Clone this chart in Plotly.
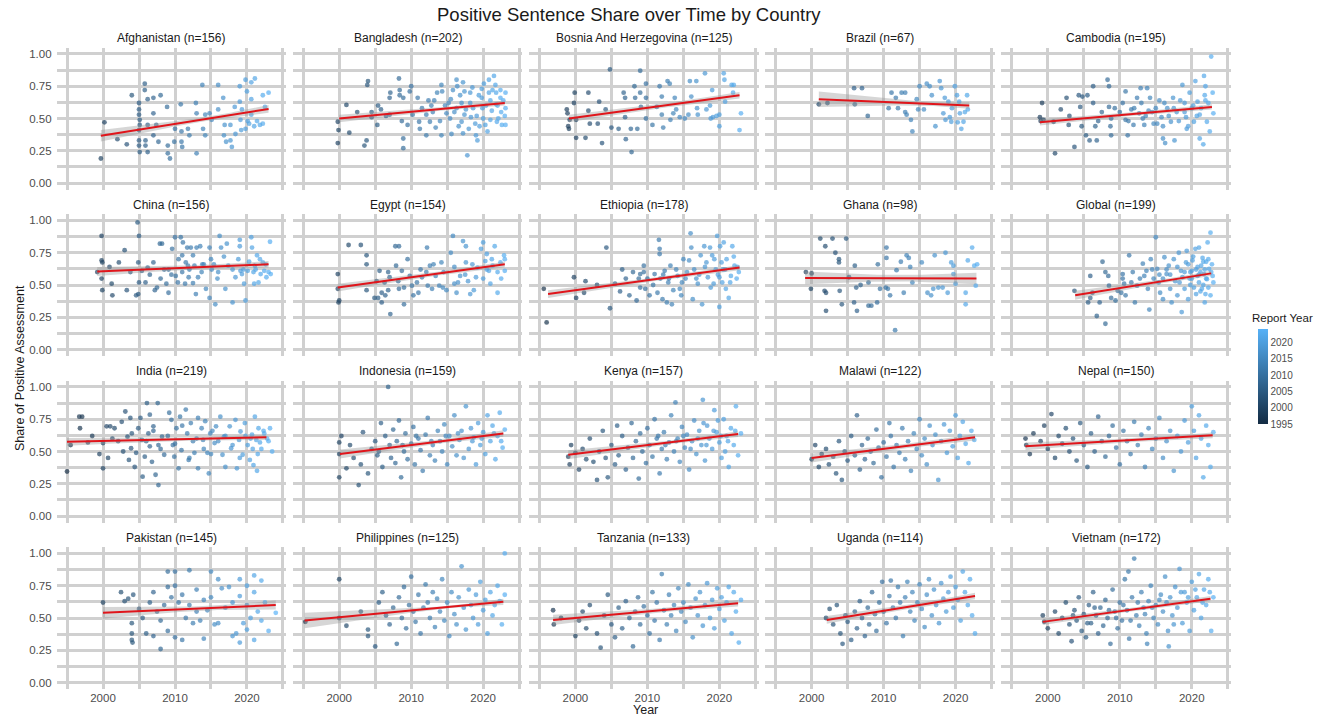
import numpy as np
import plotly.graph_objects as go

# ---------------- data ----------------
countries = ["Afghanistan", "Bangladesh", "Bosnia And Herzegovina", "Brazil", "Cambodia",
             "China", "Egypt", "Ethiopia", "Ghana", "Global",
             "India", "Indonesia", "Kenya", "Malawi", "Nepal",
             "Pakistan", "Philippines", "Tanzania", "Uganda", "Vietnam"]
counts = [156, 202, 125, 67, 195, 156, 154, 178, 98, 199,
          219, 159, 157, 122, 150, 145, 125, 133, 114, 172]

pts_afghanistan = [(1999.7,.19),(2000.2,.47),(2002,.34),(2003.3,.30),(2004,.68),(2005,.62),(2005,.57),(2005,.53),(2005.1,.49),(2005.1,.45),(2005,.41),(2005,.33),(2005,.29),(2005.1,.24),(2005.8,.77),(2005.8,.72),(2006.2,.65),(2006.2,.45),(2005.9,.33),(2005.9,.29),(2006.2,.24),(2007,.66),(2007,.54),(2007,.37),(2008,.68),(2007.4,.45),(2007.7,.32),(2008.9,.59),(2009,.23),(2009,.29),(2009.3,.19),(2010,.42),(2009.9,.32),(2010.8,.61),(2010.9,.40),(2010.9,.32),(2011,.28),(2011.8,.42),(2012,.37),(2012.9,.62),(2013,.54),(2013,.23),(2013.8,.76),(2013.9,.42),(2014.2,.53),(2014.2,.37),(2014.8,.54),(2015.1,.49),(2016,.76),(2016,.57),(2016.7,.66),(2016.9,.45),(2017.1,.32),(2016.8,.37),(2017.7,.45),(2017.9,.28),(2017.7,.33),(2018.3,.59),(2018.4,.38),(2019,.75),(2019,.63),(2019.3,.57),(2019.1,.49),(2019.2,.41),(2019.8,.80),(2020,.71),(2020.1,.48),(2019.8,.42),(2020.6,.78),(2020.6,.65),(2020.6,.53),(2021.1,.81),(2021.4,.48),(2022.2,.68),(2022.2,.46),(2023,.70),(2022.5,.59),(2021.8,.45),(2021,.44),(2020.3,.46)]

pts_bangladesh = [(1999.8,.475),(1999.8,.31),(1999.9,.41),(2001,.605),(2001.4,.39),(2003.5,.29),(2003.8,.33),(2004,.79),(2003.9,.76),(2004.5,.51),(2004.5,.55),(2005.3,.45),(2005.4,.60),(2005.8,.57),(2007,.53),(2007,.66),(2007.1,.70),(2008.3,.81),(2008.4,.72),(2008.4,.68),(2008.7,.48),(2008.9,.66),(2008.9,.27),(2008.9,.345),(2009.8,.71),(2010,.75),(2010.2,.53),(2010.9,.66),(2011.1,.475),(2011.2,.42),(2012.1,.53),(2012.1,.37),(2012.6,.475),(2012.8,.60),(2013.2,.64),(2013.4,.43),(2014.2,.76),(2014.3,.71),(2014.2,.37),(2014.7,.60),(2014.9,.54),(2015.5,.65),(2015.4,.50),(2015.6,.38),(2016.3,.80),(2016.4,.75),(2016.3,.58),(2016.8,.68),(2017,.475),(2017.2,.385),(2017.4,.53),(2017.4,.71),(2017.8,.215),(2018.2,.70),(2018.2,.62),(2018.3,.51),(2018.9,.46),(2019,.37),(2019.2,.33),(2019.8,.73),(2019.8,.66),(2019.9,.58),(2020,.50),(2020.3,.45),(2020.8,.70),(2020.8,.80),(2021,.64),(2021,.49),(2021.7,.76),(2021.8,.70),(2021.8,.61),(2021.9,.475),(2022.4,.72),(2022.4,.66),(2022.5,.55),(2022.6,.45),(2023.1,.70),(2023.1,.58),(2023.1,.45),
                  (2015.2,.62),(2015.8,.72),(2016,.55),(2016.6,.44),(2017,.62),(2017.2,.78),(2017.6,.57),(2018,.42),(2018.5,.74),(2018.6,.58),(2019.1,.52),(2019.4,.68),(2019.5,.44),(2020.1,.77),(2020.4,.60),(2020.6,.40),(2021.2,.56),(2021.3,.72),(2021.5,.83),(2022,.60),(2022.1,.50),(2022.8,.64),(2023,.52),(2011.5,.58),(2012.4,.64),(2013,.55),(2013.6,.70),(2014,.48),(2009.5,.45),(2006.5,.52),(2002.5,.55)]

pts_bosnia = [(1998.8,.57),(1998.9,.54),(1999,.44),(1999.1,.42),(1999.2,.49),(1999.9,.70),(1999.8,.62),(2000.1,.35),(2000.1,.49),(2001.4,.35),(2001.8,.70),(2001.8,.56),(2002,.46),(2003.1,.46),(2003.3,.63),(2003.7,.31),(2004.2,.57),(2004.8,.88),(2005,.43),(2006,.42),(2006.7,.70),(2006.9,.66),(2006.9,.51),(2007,.34),(2007.7,.42),(2007.8,.24),(2008.2,.75),(2008.3,.66),(2008.6,.42),(2009,.87),(2009,.70),(2009.1,.59),(2009.8,.77),(2009.8,.66),(2009.8,.50),(2010.7,.45),(2011.3,.59),(2011.7,.75),(2012,.67),(2012,.53),(2012.2,.43),(2012.8,.79),(2013.1,.77),(2013.2,.49),(2013.6,.54),(2013.8,.66),(2014,.57),(2014.5,.51),(2015.2,.50),(2015.7,.53),(2015.9,.79),(2016.1,.67),(2016.8,.79),(2016.9,.58),(2017,.53),(2018,.85),(2018.2,.57),(2018.7,.60),(2018.8,.50),(2019,.72),(2019.1,.51),(2019.6,.52),(2020,.44),(2020,.53),(2020.6,.85),(2020.7,.80),(2020.8,.63),(2021.7,.76),(2021.9,.70),(2022,.76),(2022.8,.41),(2023,.54)]

pts_brazil = [(2001,.61),(2002.2,.62),(2005.9,.735),(2007,.735),(2006,.61),(2007.8,.52),(2010.7,.58),(2011.1,.70),(2011.7,.66),(2012,.58),(2012.5,.70),(2013,.70),(2013,.55),(2013.2,.53),(2013.8,.49),(2014,.40),(2014.6,.65),(2014.8,.57),(2015,.75),(2015.6,.57),(2016,.77),(2016.4,.75),(2016.7,.68),(2017.2,.44),(2017.8,.79),(2018,.735),(2018.3,.54),(2018.5,.66),(2018.6,.49),(2019,.63),(2019.2,.51),(2019.4,.475),(2019.5,.58),(2019.9,.75),(2020.2,.68),(2020.3,.47),(2020.5,.63),(2020.6,.54),(2020.8,.42),(2021.1,.475),(2021.3,.55),(2021.6,.68),(2021.7,.57)]

pts_cambodia = [(1998.9,.51),(1999,.48),(1999.2,.62),(1999.4,.49),(2000.8,.475),(2001,.23),(2001.8,.57),(2002.6,.66),(2002.9,.45),(2003.7,.28),(2004.3,.68),(2004.5,.59),(2004.7,.44),(2004.8,.67),(2005.3,.37),(2005.5,.68),(2005.8,.33),(2006.3,.75),(2006.3,.62),(2006.6,.44),(2006.8,.33),(2008.3,.80),(2008.5,.75),(2008.5,.59),(2008.7,.44),(2008.8,.50),(2008.8,.37),(2009.3,.58),(2010.8,.71),(2010.8,.49),(2011.1,.37),(2011.6,.57),(2011.9,.45),(2012.4,.66),(2012.7,.54),(2012.9,.735),(2013.2,.50),(2013.4,.45),(2013.8,.735),(2014.2,.66),(2014.5,.55),(2014.7,.46),(2015,.58),(2015.5,.64),(2015.8,.51),(2016,.44),(2016,.345),(2016.3,.31),(2016.6,.58),(2017.1,.475),(2017.4,.66),(2017.6,.33),(2017.9,.55),(2018.7,.76),(2019,.62),(2019.2,.51),(2019.3,.42),(2019.7,.70),(2020,.58),(2020.3,.475),(2020.5,.79),(2020.8,.63),(2021.1,.53),(2021.1,.345),(2021.6,.30),(2021.7,.83),(2021.9,.64),(2022.1,.475),(2021.9,.75),(2022.7,.98),(2022.9,.70),(2023,.54),
                (2010,.55),(2010.4,.62),(2011.2,.48),(2012,.58),(2013,.62),(2013.6,.52),(2014,.56),(2015.2,.46),(2016.2,.62),(2016.8,.52),(2017.5,.58),(2018.2,.48),(2018.4,.64),(2019,.55),(2019.5,.44),(2020.2,.60),(2020.7,.52),(2021.3,.58),(2021.8,.68),(2022.3,.62),(2022.5,.40),(2007.5,.55),(2007,.48),(2003,.52)]

pts_china = [(1999.2,.60),(1999.8,.88),(1999.8,.69),(1999.9,.675),(1999.8,.55),(1999.9,.46),(2000.9,.64),(2001.2,.51),(2001.3,.42),(2002.2,.675),(2003,.77),(2003.3,.46),(2004.6,.42),(2004.8,.985),(2005,.88),(2004.9,.675),(2005,.52),(2004.9,.43),(2005.4,.61),(2005.9,.52),(2006.2,.635),(2007,.675),(2007.2,.46),(2007.5,.48),(2007.9,.82),(2008.2,.82),(2008,.55),(2008.8,.51),(2009.1,.62),(2009.1,.44),(2009.6,.78),(2010,.87),(2010.1,.57),(2010.4,.52),(2010.8,.87),(2011,.73),(2011.1,.83),(2011.4,.51),(2011.5,.675),(2011.7,.79),(2011.8,.65),(2011.9,.56),(2012.2,.79),(2012.5,.73),(2012.7,.65),(2012.5,.515),(2013,.79),(2012.9,.43),(2013.5,.80),(2013.7,.60),(2013.8,.66),(2014.3,.47),(2014.8,.79),(2014.8,.40),(2015.1,.62),(2015.4,.66),(2015.6,.35),(2015.9,.55),(2016.2,.88),(2016.4,.79),(2017,.47),(2017.2,.82),(2017.4,.65),(2018,.365),(2018.4,.56),(2019,.85),(2019,.80),(2019.1,.61),(2019.3,.585),(2019.6,.51),(2019.8,.38),(2020.1,.61),(2020.6,.87),(2020.7,.79),(2020.9,.60),(2021,.51),(2021.1,.65),(2021.4,.73),(2021.6,.52),(2021.9,.585),(2022.2,.675),(2022.4,.61),(2022.7,.56),(2023.2,.835),(2023.3,.585),
             (2008.5,.62),(2009.5,.58),(2010.5,.70),(2011,.60),(2012,.62),(2013.2,.56),(2014,.66),(2015,.70),(2016,.60),(2016.8,.72),(2018,.62),(2018.8,.70),(2019.5,.62),(2020.3,.68),(2021.2,.62),(2021.8,.70),(2022.6,.66),(2023,.60),(2003.8,.60),(2006.5,.58)]

pts_egypt = [(1999.8,.585),(1999.8,.47),(1999.9,.365),(2000,.38),(2001.3,.81),(2003,.81),(2003.8,.73),(2003.8,.66),(2003.8,.46),(2004.9,.40),(2005.2,.53),(2005.4,.40),(2005.6,.61),(2005.9,.44),(2005.9,.365),(2006.3,.52),(2006.4,.42),(2006.8,.46),(2007.1,.275),(2007,.56),(2007.8,.80),(2008.3,.80),(2007.9,.65),(2008.2,.53),(2008.3,.47),(2008.7,.61),(2009,.35),(2009.5,.70),(2009.8,.57),(2010.1,.495),(2010.3,.42),(2010.8,.52),(2011,.44),(2011.3,.62),(2012.1,.60),(2012.2,.79),(2012.3,.495),(2012.6,.65),(2012.9,.47),(2013.1,.66),(2013.4,.57),(2013.9,.495),(2014.2,.675),(2014.4,.48),(2014.9,.46),(2015.5,.75),(2015.8,.88),(2016,.51),(2016.3,.44),(2016.8,.57),(2017.2,.84),(2017.6,.80),(2017.6,.675),(2017.9,.53),(2018.2,.43),(2018.7,.46),(2019.2,.635),(2019.7,.78),(2020,.83),(2020,.55),(2020.3,.685),(2020.5,.74),(2020.8,.61),(2021,.51),(2021.3,.65),(2021.6,.80),(2022,.44),(2022.4,.675),(2022.9,.73),(2023,.61),
             (2014.5,.60),(2016,.64),(2016.5,.52),(2017.5,.58),(2018.5,.66),(2019,.56),(2020.5,.62),(2021.2,.70),(2022,.60),(2022.5,.55),(2023,.70),(2011.5,.56),(2009,.48),(2006.8,.60)]

pts_ethiopia = [(1995.6,.47),(1996,.21),(1999.8,.56),(2000.1,.40),(2001.2,.44),(2001.4,.53),(2003,.50),(2004.3,.79),(2004.8,.32),(2005.5,.51),(2006.2,.45),(2007,.55),(2007.5,.42),(2008,.60),(2008.5,.38),(2009,.48),(2009.5,.65),(2009,.585),(2009.5,.60),(2009.7,.47),(2010,.55),(2010.3,.42),(2011,.585),(2011.4,.44),(2011.6,.85),(2011.7,.78),(2011.7,.74),(2011.8,.55),(2012.1,.39),(2012.4,.61),(2012.7,.365),(2012.9,.52),(2013.2,.65),(2013.4,.35),(2013.6,.46),(2014.2,.57),(2014.5,.47),(2014.7,.42),(2015.3,.55),(2015.5,.60),(2015.8,.69),(2016,.90),(2016.1,.79),(2016.3,.39),(2016.8,.55),(2017,.51),(2017.4,.73),(2017.6,.35),(2017.9,.80),(2018.2,.675),(2018.4,.56),(2018.7,.79),(2019,.73),(2019.2,.51),(2019.5,.62),(2019.7,.88),(2020,.56),(2020,.33),(2020.1,.80),(2020.3,.675),(2020.4,.52),(2020.6,.83),(2020.8,.62),(2020.9,.47),(2021.3,.40),(2021.6,.57),(2021.8,.80),(2022.1,.65),(2022.4,.55),(2022.7,.60),
                (2010.8,.50),(2012.2,.58),(2013,.55),(2014,.62),(2014.8,.52),(2015,.70),(2016.5,.62),(2017.2,.58),(2018,.64),(2018.8,.48),(2019.3,.70),(2019.8,.58),(2020.5,.62),(2021,.70),(2021.5,.52),(2022,.72),(2022.5,.64),(2008.8,.55),(2006.5,.62)]

pts_ghana = [(1999.2,.60),(1999.9,.47),(2000,.59),(2001.2,.86),(2001.9,.80),(2002,.30),(2001.8,.455),(2002,.44),(2002.9,.86),(2003.3,.75),(2003.8,.70),(2003.8,.675),(2003.9,.455),(2004.2,.35),(2004.8,.86),(2005.2,.56),(2006,.65),(2006.2,.48),(2005.9,.365),(2006.3,.30),(2006.8,.50),(2007.9,.52),(2007.9,.34),(2008.3,.34),(2009.1,.365),(2009.5,.47),(2009.2,.66),(2010.4,.79),(2010.4,.71),(2010.3,.48),(2010.6,.47),(2010.9,.42),(2011.8,.615),(2011.6,.15),(2012.4,.68),(2012.8,.44),(2013.2,.73),(2013.5,.71),(2013.7,.64),(2014,.52),(2015.3,.675),(2016.1,.44),(2016.6,.42),(2016.9,.47),(2017.1,.73),(2017.6,.48),(2018.2,.48),(2018.6,.75),(2018.9,.44),(2019.4,.675),(2019.7,.65),(2019.7,.585),(2020,.51),(2021.4,.44),(2021.4,.35),(2021.7,.69),(2022.3,.79),(2022.6,.65),(2022.8,.495),(2023,.66)]

pts_global = [(2003.7,.455),(2005.6,.365),(2005.9,.57),(2005.9,.40),(2006.2,.44),(2006.8,.26),(2007.2,.365),(2007.6,.68),(2008,.20),(2008,.60),(2008.4,.57),(2008.8,.40),(2008.5,.495),(2009.4,.38),(2009.7,.455),(2010.2,.44),(2010.4,.585),(2010.4,.55),(2010.6,.51),(2010.8,.42),(2011.3,.73),(2011.6,.52),(2012.1,.365),(2012.4,.495),(2013.2,.665),(2013.4,.57),(2013.7,.61),(2013.9,.47),(2014.1,.31),(2014.3,.70),(2014.7,.55),(2015,.87),(2015.2,.625),(2015.4,.52),(2015.6,.44),(2016,.39),(2016.2,.715),(2016.5,.585),(2016.8,.65),(2017,.47),(2017.2,.365),(2017.5,.70),(2017.7,.53),(2018,.42),(2018.2,.75),(2018.5,.61),(2018.6,.29),(2018.7,.56),(2019,.47),(2019.2,.675),(2019.3,.765),(2019.5,.39),(2019.7,.55),(2020,.61),(2020.1,.69),(2020.3,.48),(2020.5,.78),(2020.6,.43),(2020.8,.57),(2021,.79),(2021,.52),(2021.3,.65),(2021.4,.47),(2021.5,.71),(2021.7,.585),(2021.8,.365),(2021.9,.43),(2022.1,.545),(2022.2,.83),(2022.3,.48),(2022.4,.625),(2022.6,.905),(2022.6,.42),(2022.8,.66),(2022.9,.57),(2020.6,.62),(2021.2,.60),(2019.8,.60),(2022,.68),(2021.6,.50),
              (2016,.55),(2016.5,.62),(2017,.58),(2018,.64),(2018.3,.52),(2019,.60),(2019.5,.66),(2020,.55),(2020.2,.72),(2020.8,.64),(2021,.58),(2021.2,.45),(2021.8,.62),(2022,.55),(2022.3,.70),(2022.7,.60),(2023,.52),(2014.5,.62),(2015.5,.58),(2012.8,.55),(2011.8,.60),(2019.8,.50),(2021.6,.68)]

pts_india = [(1995,.345),(1996.7,.77),(1997.1,.77),(1996.8,.68),(1997.9,.57),(2000,.37),(2000,.565),(2000.5,.695),(2001,.695),(2000.7,.45),(2001.6,.68),(2002.1,.58),(2002.6,.73),(2003.1,.81),(2003.4,.615),(2003.6,.435),(2003.8,.76),(2003.9,.525),(2004.4,.38),(2004.6,.49),(2004.9,.68),(2005.2,.76),(2005.4,.59),(2005.5,.305),(2005.8,.46),(2006.1,.875),(2006.3,.64),(2006.5,.785),(2006.5,.54),(2006.8,.42),(2007,.695),(2007.3,.32),(2007.6,.875),(2007.7,.24),(2007.7,.55),(2008.2,.615),(2008.5,.475),(2009.2,.80),(2009.5,.745),(2009.7,.55),(2009.9,.46),(2010.2,.68),(2010.5,.37),(2010.7,.77),(2010.9,.51),(2011.5,.825),(2011.7,.64),(2011.9,.435),(2012.2,.72),(2012.5,.58),(2012.7,.49),(2013.2,.76),(2013.2,.37),(2013.7,.68),(2013.9,.59),(2014.2,.735),(2014.5,.49),(2014.7,.33),(2014.9,.64),(2015.5,.565),(2015.7,.695),(2016.3,.77),(2016.6,.475),(2016.8,.615),(2017,.38),(2017.6,.695),(2017.8,.525),(2018.4,.745),(2018.6,.37),(2018.9,.59),(2019.1,.655),(2019.4,.475),(2019.7,.72),(2020.1,.55),(2020.4,.435),(2020.7,.63),(2020.9,.395),(2021.1,.77),(2021.3,.59),(2021.6,.68),(2022,.52),(2022.4,.64),(2022.8,.60),(2023.2,.68),(2021.8,.57),(2020.5,.60),
             (1995.5,.55),(1998.5,.62),(1999.5,.48),(2001.3,.60),(2002.8,.50),(2004,.64),(2006,.58),(2007,.66),(2008,.52),(2009,.62),(2010,.56),(2011,.70),(2012,.45),(2013,.60),(2014,.52),(2015,.48),(2015.2,.66),(2016,.58),(2017,.62),(2018,.55),(2019,.45),(2019.8,.62),(2020.8,.52),(2021.5,.48),(2022.3,.66),(2023,.58),(2021.4,.35),(2023.5,.50)]

pts_indonesia = [(2000,.48),(2000,.30),(2000,.57),(2000.3,.62),(2001,.37),(2001.5,.55),(2002,.45),(2002.7,.24),(2003,.40),(2003.3,.65),(2004,.33),(2004.5,.52),(2005,.58),(2005.3,.47),(2005.8,.72),(2006,.38),(2006.4,.62),(2006.8,1.0),(2007,.55),(2007.2,.45),(2007.5,.67),(2007.8,.41),(2008,.58),(2008.3,.74),(2008.6,.30),(2009,.50),(2009.2,.64),(2009.5,.44),(2010,.56),(2010.3,.69),(2010.5,.40),(2011,.60),(2011.3,.51),(2011.6,.35),(2012,.63),(2012.3,.76),(2012.6,.47),(2013,.55),(2013.3,.43),(2013.7,.66),(2014,.58),(2014.3,.50),(2014.6,.71),(2015,.40),(2015.3,.62),(2015.7,.54),(2016,.78),(2016.3,.47),(2016.7,.59),(2017,.66),(2017.3,.45),(2017.6,.85),(2018,.52),(2018.3,.68),(2018.7,.61),(2019,.40),(2019.3,.72),(2019.6,.55),(2020,.65),(2020.3,.48),(2020.6,.78),(2021,.58),(2021.3,.70),(2021.7,.44),(2022,.62),(2022.3,.80),(2022.7,.53),(2023,.67),
                 (2010.7,.62),(2012.8,.58),(2014.8,.62),(2016.5,.64),(2018.5,.58),(2019.8,.60),(2021.5,.64),(2022.5,.58),(2008.8,.55),(2005.5,.50)]

pts_kenya = [(1999,.46),(1999.2,.40),(1999.4,.55),(2000,.49),(2000.5,.36),(2001,.52),(2001.5,.44),(2002,.60),(2002.5,.42),(2003,.28),(2003.3,.50),(2003.8,.66),(2004.2,.45),(2004.5,.30),(2005,.55),(2005.5,.40),(2005.8,.70),(2006,.47),(2006.5,.62),(2007,.36),(2007.3,.53),(2007.8,.72),(2008,.45),(2008.4,.58),(2008.8,.29),(2009,.64),(2009.3,.50),(2009.8,.41),(2010,.68),(2010.3,.55),(2010.7,.46),(2011,.75),(2011.3,.60),(2011.7,.33),(2012,.52),(2012.3,.65),(2012.7,.44),(2013,.57),(2013.3,.78),(2013.7,.50),(2013.9,.88),(2014.2,.60),(2014.5,.42),(2014.8,.69),(2015.2,.53),(2015.5,.63),(2015.8,.36),(2016.2,.58),(2016.5,.74),(2016.8,.48),(2017.2,.66),(2017.5,.55),(2017.7,.90),(2018,.43),(2018.3,.70),(2018.6,.60),(2019,.52),(2019.3,.82),(2019.6,.65),(2020,.57),(2020.3,.45),(2020.6,.75),(2021,.62),(2021.3,.38),(2021.6,.68),(2022,.55),(2022.3,.85),(2022.6,.47),(2023,.64),
             (2011.5,.62),(2012.5,.55),(2014,.58),(2015,.62),(2016,.52),(2017,.60),(2018.2,.55),(2019.2,.66),(2020.2,.62),(2021.2,.58),(2022.2,.66),(2020.8,.50),(2017.8,.72),(2019.8,.74)]

pts_malawi = [(2000,.44),(2000.5,.55),(2001,.38),(2001.4,.48),(2002,.52),(2002.4,.40),(2003,.46),(2003.4,.33),(2003.8,.58),(2004.2,.28),(2004.6,.50),(2005,.43),(2005.5,.62),(2006,.47),(2006.3,.78),(2006.7,.36),(2007,.55),(2007.4,.44),(2007.8,.60),(2008.2,.50),(2008.6,.41),(2009,.67),(2009.3,.53),(2009.7,.30),(2010,.57),(2010.4,.46),(2010.8,.72),(2011,.62),(2011.4,.38),(2011.8,.55),(2012.2,.49),(2012.6,.68),(2013,.44),(2013.4,.58),(2013.8,.35),(2014.2,.64),(2014.6,.52),(2015,.75),(2015.3,.47),(2015.7,.60),(2016,.40),(2016.4,.70),(2016.8,.55),(2017.2,.63),(2017.6,.28),(2018,.58),(2018.4,.71),(2018.8,.49),(2019.2,.66),(2019.6,.54),(2020,.78),(2020.3,.45),(2020.6,.62),(2021,.73),(2021.4,.56),(2021.8,.41),(2022.2,.66),(2022.6,.59)]

pts_nepal = [(1996.9,.60),(1997,.55),(1997.5,.48),(1998,.64),(1999,.58),(1999.5,.70),(2000,.52),(2000.5,.79),(2001,.45),(2001.5,.62),(2002,.56),(2002.5,.68),(2003,.50),(2003.5,.60),(2004,.43),(2004.5,.72),(2005,.55),(2005.5,.38),(2006,.64),(2006.5,.50),(2007,.77),(2007.5,.58),(2008,.46),(2008.5,.62),(2009,.70),(2009.5,.53),(2010,.40),(2010.5,.66),(2011,.58),(2011.5,.48),(2012,.73),(2012.5,.55),(2013,.63),(2013.5,.38),(2014,.68),(2014.5,.52),(2015,.60),(2015.5,.76),(2016,.45),(2016.5,.58),(2017,.66),(2017.5,.35),(2018,.62),(2018.5,.50),(2019,.74),(2019.5,.57),(2020,.85),(2020.3,.66),(2020.6,.45),(2021,.78),(2021.3,.60),(2021.6,.30),(2022,.70),(2022.3,.55),(2022.6,.38),(2023,.65)]

pts_pakistan = [(2000,.62),(2002.5,.70),(2003,.63),(2003.5,.65),(2004,.46),(2004,.38),(2004,.33),(2004.1,.31),(2004.2,.68),(2005,.57),(2005.5,.50),(2006,.38),(2006.5,.62),(2007,.36),(2007,.70),(2007.5,.55),(2008,.48),(2008,.26),(2008.5,.60),(2009,.86),(2009,.74),(2009,.40),(2009.5,.66),(2010,.86),(2010,.75),(2010,.35),(2010.5,.62),(2011,.68),(2011,.33),(2011.5,.50),(2012,.87),(2012,.60),(2012.5,.46),(2013,.72),(2013,.55),(2013.5,.48),(2014,.64),(2014,.34),(2014.5,.56),(2015,.86),(2015,.66),(2015.5,.45),(2016,.80),(2016,.46),(2016.5,.73),(2017,.58),(2017.5,.74),(2018,.36),(2018,.62),(2018.5,.38),(2019,.80),(2019,.67),(2019,.31),(2019.5,.46),(2020,.75),(2020,.60),(2020,.41),(2020.5,.50),(2021,.83),(2021,.70),(2021,.33),(2021.5,.55),(2022,.79),(2022,.48),(2022.5,.62),(2023,.40),(2024,.54)]

pts_philippines = [(1995.3,.47),(2000,.80),(2000,.50),(2001,.44),(2003,.55),(2004,.41),(2004,.36),(2005,.28),(2005.5,.62),(2006,.70),(2006.5,.52),(2007,.45),(2007.5,.58),(2008,.30),(2008.3,.66),(2008.7,.50),(2009,.74),(2009.3,.42),(2009.7,.60),(2010,.82),(2010.3,.55),(2010.6,.47),(2011,.68),(2011.3,.38),(2011.7,.58),(2012,.76),(2012.3,.62),(2012.6,.50),(2013,.70),(2013.3,.43),(2013.6,.65),(2014,.55),(2014.3,.80),(2014.6,.48),(2015,.62),(2015.3,.36),(2015.6,.70),(2016,.53),(2016.3,.45),(2016.6,.66),(2017,.90),(2017.3,.58),(2017.6,.41),(2018,.72),(2018.3,.60),(2018.6,.50),(2019,.68),(2019.3,.45),(2019.6,.78),(2020,.56),(2020.3,.64),(2020.6,.38),(2021,.70),(2021.3,.52),(2021.6,.60),(2022,.75),(2022.3,.63),(2022.6,.45),(2023,1.0),(2023,.68)]

pts_tanzania = [(1996.9,.56),(1997,.45),(1998,.50),(2000,.36),(2000.5,.48),(2001,.55),(2001.5,.42),(2002,.60),(2003,.38),(2003.5,.27),(2004,.52),(2004.5,.68),(2005,.45),(2005.5,.35),(2006,.58),(2006.5,.42),(2007,.63),(2007.5,.50),(2008,.28),(2008.3,.55),(2008.7,.66),(2009,.45),(2009.5,.59),(2010,.52),(2010.3,.38),(2010.7,.70),(2011,.48),(2011.3,.62),(2011.7,.33),(2012,.84),(2012.3,.56),(2012.7,.45),(2013,.68),(2013.3,.52),(2013.7,.60),(2014,.40),(2014.3,.73),(2014.7,.55),(2015,.62),(2015.3,.47),(2015.7,.76),(2016,.58),(2016.3,.35),(2016.7,.65),(2017,.52),(2017.3,.70),(2017.7,.44),(2018,.60),(2018.3,.77),(2018.7,.50),(2019,.64),(2019.3,.42),(2019.7,.73),(2020,.57),(2020.3,.66),(2020.7,.48),(2021,.62),(2021.3,.74),(2021.7,.38),(2022,.70),(2022.3,.55),(2022.7,.31),(2023,.64)]

pts_uganda = [(2002,.50),(2002.5,.57),(2003,.45),(2003.5,.60),(2004,.38),(2004.3,.30),(2004.7,.52),(2005,.47),(2005.5,.33),(2006,.55),(2006.3,.42),(2006.7,.63),(2007,.50),(2007.4,.36),(2007.8,.58),(2008,.45),(2008.4,.70),(2008.8,.53),(2009,.40),(2009.4,.62),(2009.8,.78),(2010,.55),(2010.4,.46),(2010.8,.67),(2011,.79),(2011.3,.58),(2011.7,.50),(2012,.74),(2012.3,.62),(2012.7,.36),(2013,.66),(2013.3,.78),(2013.7,.55),(2014,.70),(2014.3,.48),(2014.7,.62),(2015,.76),(2015.3,.57),(2015.7,.43),(2016,.68),(2016.3,.80),(2016.7,.52),(2017,.72),(2017.3,.60),(2017.7,.46),(2018,.77),(2018.3,.65),(2018.7,.55),(2019,.70),(2019.3,.82),(2019.7,.58),(2020,.74),(2020.3,.64),(2020.7,.48),(2021,.86),(2021.3,.70),(2021.7,.60),(2022,.80),(2022.3,.52),(2022.7,.38)]

pts_vietnam = [(1999.3,.52),(1999.5,.47),(2000,.42),(2001,.55),(2001.5,.38),(2002,.50),(2002.5,.62),(2003,.45),(2003.3,.32),(2003.7,.56),(2004,.48),(2004.3,.66),(2004.7,.40),(2005,.53),(2005.3,.35),(2005.7,.60),(2006,.46),(2006.3,.70),(2006.7,.52),(2007,.38),(2007.3,.58),(2007.7,.44),(2008,.64),(2008.3,.50),(2008.7,.30),(2009,.72),(2009.3,.55),(2009.7,.42),(2010,.62),(2010.3,.48),(2010.7,.80),(2011,.56),(2011.3,.34),(2011.7,.66),(2012,.96),(2012.3,.52),(2012.7,.44),(2013,.70),(2013.3,.58),(2013.7,.38),(2014,.63),(2014.3,.75),(2014.7,.50),(2015,.60),(2015.3,.45),(2015.7,.68),(2016,.55),(2016.3,.82),(2016.7,.40),(2017,.66),(2017.3,.52),(2017.7,.74),(2018,.58),(2018.3,.88),(2018.7,.46),(2019,.70),(2019.3,.62),(2019.7,.40),(2020,.78),(2020.3,.56),(2020.7,.66),(2021,.84),(2021.3,.50),(2021.7,.72),(2022,.60),(2022.3,.80),(2022.7,.40),(2023,.66),
               (2003.5,.52),(2005.5,.46),(2006.5,.58),(2008.5,.56),(2009.5,.50),(2010.5,.60),(2011.5,.48),(2012.5,.62),(2013.5,.53),(2014.5,.58),(2015.5,.64),(2016.5,.62),(2017.5,.45),(2018.5,.70),(2019.5,.66),(2020.5,.72),(2021.5,.62),(2022.5,.70),(2013.8,.30),(2016.8,.28),(2011.2,.86)]

# linear-trend fit (line ends and confidence half-widths)
fit_start_year = [1999.7, 2000.0, 1999.1, 2001.0, 1998.9, 1999.2, 1999.8, 1996.2, 1999.1, 2003.8,
                  1995.0, 2000.1, 1999.0, 2000.0, 1996.9, 2000.0, 1995.2, 1996.9, 2002.1, 1999.3]
fit_end_year = [2023.0, 2023.0, 2022.8, 2021.9, 2022.8, 2023.0, 2023.0, 2022.8, 2022.9, 2022.7,
                2022.7, 2022.8, 2022.6, 2022.7, 2022.9, 2024.0, 2022.8, 2022.6, 2022.7, 2022.6]
fit_start_share = [.366, .50, .50, .65, .47, .605, .48, .43, .555, .42,
                   .575, .48, .475, .45, .54, .54, .48, .485, .485, .47]
fit_end_share = [.574, .62, .68, .60, .59, .66, .66, .635, .55, .59,
                 .61, .64, .635, .61, .625, .60, .625, .615, .67, .65]
se_start = [.045, .03, .03, .06, .025, .035, .03, .03, .05, .035,
            .03, .035, .035, .035, .03, .045, .06, .04, .03, .025]
se_mid = [.018, .015, .017, .025, .014, .017, .016, .015, .025, .017,
          .014, .017, .016, .018, .016, .018, .02, .018, .018, .014]
se_end = [.03, .02, .025, .025, .02, .025, .022, .02, .045, .02,
          .02, .025, .022, .025, .022, .035, .025, .025, .025, .02]

y_tick_values = [0, 0.25, 0.5, 0.75, 1.0]
y_tick_labels = ["0.00", "0.25", "0.50", "0.75", "1.00"]
x_tick_values = [2000, 2010, 2020]
colorbar_ticks = [1995, 2000, 2005, 2010, 2015, 2020]

all_points = [pts_afghanistan, pts_bangladesh, pts_bosnia, pts_brazil, pts_cambodia,
              pts_china, pts_egypt, pts_ethiopia, pts_ghana, pts_global,
              pts_india, pts_indonesia, pts_kenya, pts_malawi, pts_nepal,
              pts_pakistan, pts_philippines, pts_tanzania, pts_uganda, pts_vietnam]

# ---------------- layout geometry ----------------
W, H = 1329, 717
FONT = "Liberation Sans, Arial, Helvetica, sans-serif"
GRID = "#d0d0d0"
PANEL_L0, PANEL_W, COL_STEP = 56.6, 229.6, 236.2
PANEL_T0, PANEL_H, ROW_STEP = 47.5, 142.0, 166.5
COLORSCALE = [[0, "#132B43"], [1, "#56B1F7"]]
TICKFONT = dict(family=FONT, size=11.5, color="#4d4d4d")

fig = go.Figure()
layout = {}
annotations = []

for k, name in enumerate(countries):
    r, c = divmod(k, 5)
    suf = "" if k == 0 else str(k + 1)
    xa, ya = "x" + suf, "y" + suf
    left = PANEL_L0 + COL_STEP * c
    top = PANEL_T0 + ROW_STEP * r
    xdom = [left / W, (left + PANEL_W) / W]
    ydom = [1 - (top + PANEL_H) / H, 1 - top / H]

    pts = np.array(all_points[k], dtype=float)
    fig.add_trace(go.Scatter(
        x=pts[:, 0], y=pts[:, 1], mode="markers", xaxis=xa, yaxis=ya,
        marker=dict(size=4.8, color=pts[:, 0], colorscale=COLORSCALE, cmin=1995, cmax=2024,
                    opacity=0.68, line=dict(width=0),
                    showscale=(k == 0),
                    colorbar=dict(x=1257.7 / W, xanchor="left", y=1 - 376.7 / H, yanchor="middle",
                                  lenmode="pixels", len=95, thickness=10, xpad=0, ypad=0,
                                  outlinewidth=0, tickvals=colorbar_ticks, ticks="",
                                  tickfont=dict(family=FONT, size=10, color="#4d4d4d"))),
        showlegend=False, hoverinfo="skip"))

    x0, x1 = fit_start_year[k], fit_end_year[k]
    y0, y1 = fit_start_share[k], fit_end_share[k]
    xs = np.linspace(x0, x1, 60)
    t = (xs - x0) / (x1 - x0)
    ys = y0 + (y1 - y0) * t
    a, m, b = se_start[k] ** 2, se_mid[k] ** 2, se_end[k] ** 2
    s2 = a * (2 * t - 1) * (t - 1) - 4 * m * t * (t - 1) + b * t * (2 * t - 1)
    se = np.sqrt(np.clip(s2, 1e-8, None))
    fig.add_trace(go.Scatter(
        x=np.concatenate([xs, xs[::-1]]), y=np.concatenate([ys + se, (ys - se)[::-1]]),
        fill="toself", fillcolor="rgba(153,153,153,0.4)", line=dict(width=0),
        mode="lines", xaxis=xa, yaxis=ya, showlegend=False, hoverinfo="skip"))
    fig.add_trace(go.Scatter(
        x=xs, y=ys, mode="lines", line=dict(color="#e0151b", width=2),
        xaxis=xa, yaxis=ya, showlegend=False, hoverinfo="skip"))

    layout["xaxis" + suf] = dict(
        domain=xdom, anchor=ya, range=[1993.55, 2025.45], tickmode="array", tickvals=x_tick_values,
        showticklabels=(r == 3), showgrid=True, gridcolor=GRID, gridwidth=2.6, zeroline=False,
        showline=False, ticks="", tickfont=TICKFONT,
        minor=dict(tick0=1995, dtick=5, showgrid=True, gridcolor=GRID, gridwidth=2.6),
        fixedrange=True)
    layout["yaxis" + suf] = dict(
        domain=ydom, anchor=xa, range=[-0.05, 1.05], tickmode="array", tickvals=y_tick_values,
        ticktext=y_tick_labels, showticklabels=(c == 0), showgrid=True, gridcolor=GRID,
        gridwidth=2.6, zeroline=False, showline=False, ticks="", ticklabelstandoff=4,
        tickfont=TICKFONT,
        minor=dict(tick0=0, dtick=0.125, showgrid=True, gridcolor=GRID, gridwidth=2.6),
        fixedrange=True)

    annotations.append(dict(
        text=f"{name} (n={counts[k]})", x=(left + PANEL_W / 2) / W, y=1 - (top - 9.5) / H,
        xref="paper", yref="paper", xanchor="center", yanchor="middle", showarrow=False,
        font=dict(family=FONT, size=12, color="#1a1a1a")))

annotations += [
    dict(text="Positive Sentence Share over Time by Country", x=629 / W, y=1 - 14 / H,
         xref="paper", yref="paper", xanchor="center", yanchor="middle", showarrow=False,
         font=dict(family=FONT, size=18.5, color="#1a1a1a")),
    dict(text="Year", x=645 / W, y=1 - 710 / H, xref="paper", yref="paper",
         xanchor="center", yanchor="middle", showarrow=False,
         font=dict(family=FONT, size=12.5, color="#1a1a1a")),
    dict(text="Share of Positive Assessment", x=20 / W, y=1 - 368 / H, xref="paper", yref="paper",
         xanchor="center", yanchor="middle", showarrow=False, textangle=-90,
         font=dict(family=FONT, size=12.5, color="#1a1a1a")),
    dict(text="Report Year", x=1250 / W, y=1 - 318 / H, xref="paper", yref="paper",
         xanchor="left", yanchor="middle", showarrow=False,
         font=dict(family=FONT, size=11.5, color="#1a1a1a")),
]

fig.update_layout(
    width=W, height=H, margin=dict(l=0, r=0, t=0, b=0),
    paper_bgcolor="white", plot_bgcolor="white", showlegend=False,
    annotations=annotations, **layout)

fig.write_html("out.html", config={"displayModeBar": False},
               post_script="document.body.style.margin='0';document.body.style.overflow='hidden';")
